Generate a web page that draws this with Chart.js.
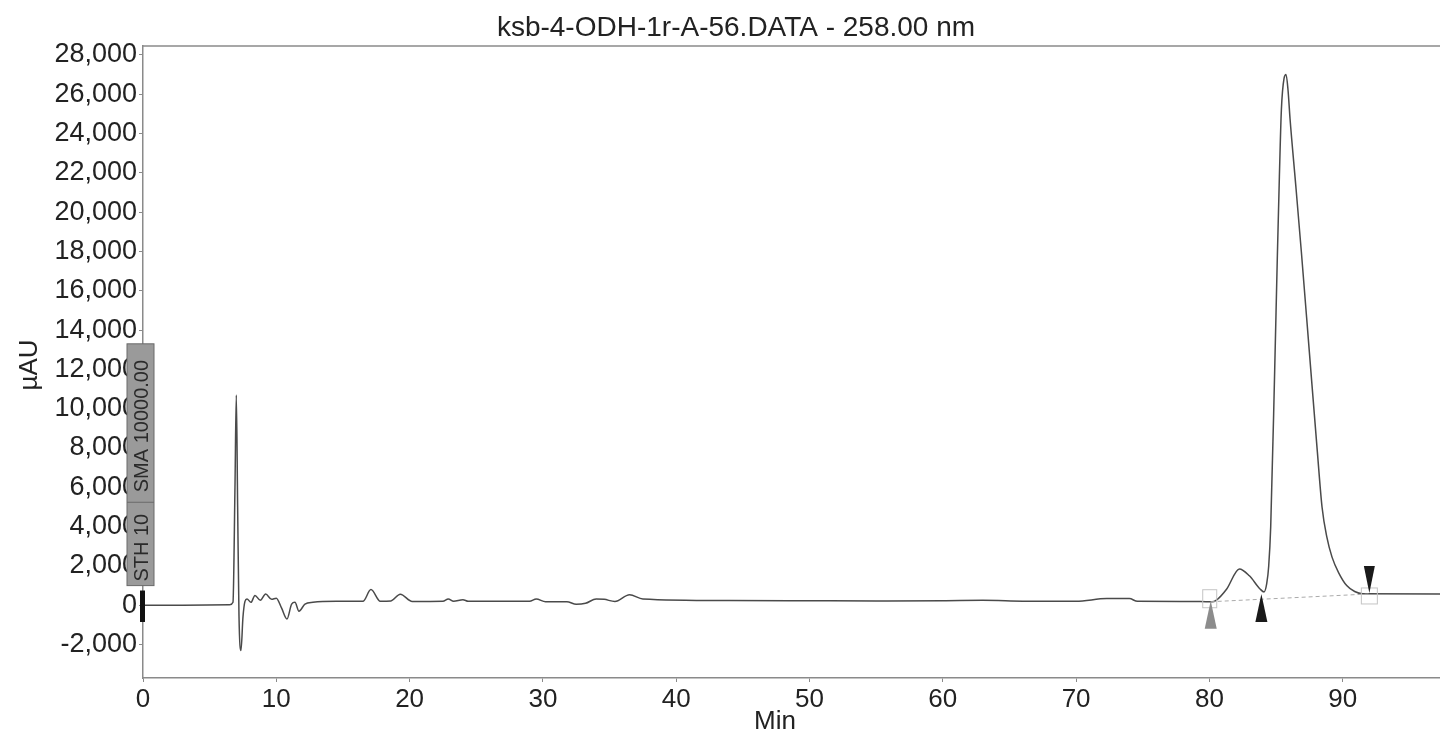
<!DOCTYPE html>
<html>
<head>
<meta charset="utf-8">
<script src="https://cdn.jsdelivr.net/npm/chart.js@4.4.1/dist/chart.umd.min.js"></script>
<style>
  html, body { margin: 0; padding: 0; background: #fff; }
  #wrap { width: 1440px; height: 739px; position: relative; }
</style>
</head>
<body>
<div id="wrap"><canvas id="chart"></canvas></div>
<script>
// Chromatogram trace (minutes, µAU)
const times = [
  0, 3, 6.5, 6.75, 6.9, 7.0, 7.1, 7.2, 7.35, 7.5, 7.65, 7.8, 8.1, 8.4, 8.8, 9.2, 9.65, 10.0,
  10.4, 10.8, 11.15, 11.4, 11.7, 12.15, 12.75, 14.5, 16.5, 17.1, 17.8, 18.6, 19.3, 20.2,
  22.5, 22.9, 23.3, 24.0, 24.4, 29.0, 29.5, 30.2, 31.8, 32.5, 33.2, 34.0, 34.6, 35.4, 36.5,
  37.5, 44, 50, 55, 60, 63, 66, 70, 72.3, 74, 74.6, 79.3, 80.2, 80.5, 81.3, 82.25, 83.0,
  83.8, 84.1, 84.3, 84.45, 84.6, 84.9, 85.1, 85.25, 85.4, 85.6, 85.75, 85.9, 86.05, 86.48,
  86.9, 87.5, 88.1, 88.45, 88.8, 89.2, 89.7, 90.3, 90.9, 91.5, 97.5
];
const signal = [
  0, 0, 20, 150, 6000, 10700, 5000, -500, -2300, -600, 200, 320, 150, 500, 250, 570, 300, 360,
  -150, -700, 60, 150, -300, 60, 150, 200, 200, 800, 200, 220, 560, 190,
  200, 320, 200, 280, 200, 200, 320, 180, 180, 50, 100, 320, 300, 190, 540,
  320, 240, 230, 220, 230, 250, 210, 200, 340, 340, 200, 190, 180, 250, 830, 1850, 1500,
  830, 680, 1100, 2000, 4000, 12000, 17800, 21800, 25200, 26800, 27000, 26200, 24750, 21360,
  17970, 12880, 7800, 5000, 3500, 2450, 1650, 1000, 700, 590, 575
];

// peak start/end event markers (min, µAU on baseline)
const markerTimes = [80.1, 83.9, 92.0];
const markerLevels = [180, 680, 575];

const yTickValues = [-2000, 0, 2000, 4000, 6000, 8000, 10000, 12000, 14000, 16000, 18000, 20000, 22000, 24000, 26000, 28000];
const xTickValues = [0, 10, 20, 30, 40, 50, 60, 70, 80, 90];
const yRange = [-3700, 28450];
const xRange = [0, 97.3];

const titleText = 'ksb-4-ODH-1r-A-56.DATA - 258.00 nm';
const FONT = '"Liberation Sans", Arial, sans-serif';

const points = times.map((t, i) => ({ x: t, y: signal[i] }));

// extra drawing: title, axis names, top border, event marks
const decorations = {
  id: 'decorations',
  afterDraw(chart) {
    const { ctx, chartArea, scales } = chart;
    const xs = scales.x, ys = scales.y;
    ctx.save();

    // top frame line
    ctx.strokeStyle = '#8a8a8a';
    ctx.lineWidth = 1.5;
    ctx.beginPath();
    ctx.moveTo(chartArea.left, chartArea.top);
    ctx.lineTo(chartArea.right, chartArea.top);
    ctx.stroke();

    ctx.fillStyle = '#222';
    ctx.textAlign = 'center';
    ctx.textBaseline = 'middle';
    ctx.font = '28px ' + FONT;
    ctx.fillText(titleText, 736, 28);
    ctx.font = '26px ' + FONT;
    ctx.fillText('Min', 775, 722);

    ctx.save();
    ctx.translate(30, 365);
    ctx.rotate(-Math.PI / 2);
    ctx.fillText('µAU', 0, 0);
    ctx.restore();

    // dashed baseline between peak events
    const bx0 = xs.getPixelForValue(markerTimes[0]);
    const by0 = ys.getPixelForValue(markerLevels[0]);
    const bx1 = xs.getPixelForValue(markerTimes[2]);
    const by1 = ys.getPixelForValue(markerLevels[2]);
    ctx.strokeStyle = '#aaa';
    ctx.lineWidth = 1;
    ctx.setLineDash([4, 3]);
    ctx.beginPath();
    ctx.moveTo(bx0, by0);
    ctx.lineTo(bx1, by1);
    ctx.stroke();
    ctx.setLineDash([]);

    // faint boxes at the integration ends
    ctx.strokeStyle = '#c4c4c4';
    ctx.strokeRect(bx0 - 8, by0 - 12, 14, 18);
    ctx.strokeRect(bx1 - 8, by1 - 6, 16, 16);

    // triangles
    const tri = (x, yTip, h, w, up, color) => {
      ctx.fillStyle = color;
      ctx.beginPath();
      ctx.moveTo(x, yTip);
      ctx.lineTo(x - w / 2, yTip + (up ? h : -h));
      ctx.lineTo(x + w / 2, yTip + (up ? h : -h));
      ctx.closePath();
      ctx.fill();
    };
    tri(bx0, by0 - 1, 28, 12, true, '#8c8c8c');
    tri(xs.getPixelForValue(markerTimes[1]), ys.getPixelForValue(markerLevels[1]) + 2, 28, 12, true, '#1a1a1a');
    tri(bx1, by1 - 1, 27, 11, false, '#1a1a1a');

    // annotation box at time 0
    const x0 = xs.getPixelForValue(0);
    const boxTop = ys.getPixelForValue(13300);
    const boxBot = ys.getPixelForValue(1000);
    const divY = ys.getPixelForValue(5240);
    ctx.fillStyle = '#9a9a9a';
    ctx.fillRect(x0 - 16, boxTop, 27, boxBot - boxTop);
    ctx.strokeStyle = '#6a6a6a';
    ctx.lineWidth = 1;
    ctx.strokeRect(x0 - 16, boxTop, 27, boxBot - boxTop);
    ctx.beginPath();
    ctx.moveTo(x0 - 16, divY);
    ctx.lineTo(x0 + 11, divY);
    ctx.stroke();
    ctx.save();
    ctx.translate(x0 - 2, boxBot - 4);
    ctx.rotate(-Math.PI / 2);
    ctx.fillStyle = '#2a2a2a';
    ctx.font = '20px ' + FONT;
    ctx.textAlign = 'left';
    ctx.fillText('STH 10', 0, 1);
    ctx.fillText('SMA 10000.00', (boxBot - divY) + 6, 1);
    ctx.restore();

    // injection mark
    ctx.fillStyle = '#111';
    ctx.fillRect(x0 - 3, ys.getPixelForValue(750), 5, ys.getPixelForValue(-850) - ys.getPixelForValue(750));

    ctx.restore();
  }
};

new Chart(document.getElementById('chart'), {
  type: 'line',
  data: {
    datasets: [{
      label: 'Signal',
      data: points,
      borderColor: '#4a4a4a',
      borderWidth: 1.5,
      pointRadius: 0,
      cubicInterpolationMode: 'monotone',
      fill: false
    }]
  },
  options: {
    responsive: true,
    maintainAspectRatio: false,
    animation: false,
    layout: { padding: { top: 46, right: 0, left: 0, bottom: 0 } },
    plugins: { legend: { display: false }, tooltip: { enabled: false } },
    scales: {
      x: {
        type: 'linear',
        min: xRange[0],
        max: xRange[1],
        afterFit: s => { s.height = 61; },
        afterBuildTicks: s => { s.ticks = xTickValues.map(v => ({ value: v })); },
        border: { color: '#8a8a8a', width: 1.5 },
        grid: { drawOnChartArea: false, tickLength: 4, color: '#8a8a8a' },
        ticks: {
          maxRotation: 0,
          autoSkip: false,
          padding: 2,
          color: '#222',
          font: { family: FONT, size: 26 }
        }
      },
      y: {
        min: yRange[0],
        max: yRange[1],
        afterFit: s => { s.width = 143; },
        afterBuildTicks: s => { s.ticks = yTickValues.map(v => ({ value: v })); },
        border: { color: '#8a8a8a', width: 1.5 },
        grid: { drawOnChartArea: false, tickLength: 4, color: '#8a8a8a' },
        ticks: {
          autoSkip: false,
          padding: 2,
          color: '#222',
          font: { family: FONT, size: 27 },
          callback: v => v.toLocaleString('en-US')
        }
      }
    }
  },
  plugins: [decorations]
});
</script>
</body>
</html>
